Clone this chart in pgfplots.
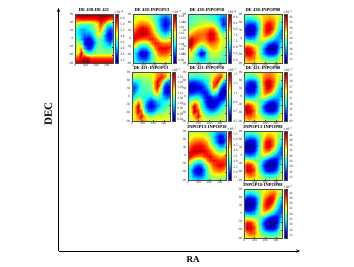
\documentclass[border=0pt]{standalone}
\usepackage{fontspec}
\setmainfont{Liberation Serif}
\usepackage{pgfplots}
\pgfplotsset{compat=1.18}
\usetikzlibrary{arrows.meta}
\def\tinyf{\fontsize{3.4}{3.8}\selectfont}
\definecolor{fr}{gray}{0.3}
\newcommand\panel[9]{%
\begin{axis}[at={(#1pt,{(266-#2-49)*1pt})},anchor=south west,scale only axis,width=38pt,height=49pt,
 xmin=0,xmax=360,ymin=-90,ymax=90,axis on top,clip=false,colormap/jet,
 xtick={0,100,200,300},ytick={-90,-60,-30,0,30,60,90},
 tick style={line width=0.25pt,color=fr},major tick length=1pt,axis line style={line width=0.6pt,color=fr},
 tick label style={font=\tinyf,color=black!85},
 /pgf/number format/assume math mode=true,
 xticklabel style={yshift=1.8pt},yticklabel style={xshift=1.8pt},
 point meta min=#3,point meta max=#4,
 colorbar,colorbar style={width=3.3pt,height=49pt,at={(parent axis.north east)},anchor=north west,xshift=-6.5pt,
  ytick={#5},yticklabels={#6},major tick length=0pt,axis line style={line width=0.25pt,color=fr},
  yticklabel style={font=\tinyf,xshift=-1.6pt,color=black!85}},
 title style={font=\bfseries\fontsize{4.6}{5}\selectfont,yshift=-7.5pt},title={#7}]
\addplot[surf,shader=interp,mesh/cols=13,point meta=\thisrowno{0}] table[row sep=\\,header=false,
 x expr={30*mod(\coordindex,13)},y expr={90-18*floor(\coordindex/13)},y index=0]{#9};
\node[font=\fontsize{3.6}{4}\selectfont,anchor=south west,inner sep=0pt] at (rel axis cs:1.04,1.005) {×10\raisebox{1pt}{\fontsize{2.8}{2.8}\selectfont −#8}};
\end{axis}}
\begin{document}
\begin{tikzpicture}[x=1pt,y=1pt]
\useasboundingbox (0,0) rectangle (354pt,266pt);
\begin{axis}[at={(58.5pt,15pt)},anchor=south west,scale only axis,width=241.5pt,height=243pt,
 axis lines=left,xmin=0,xmax=1,ymin=0,ymax=1,xtick=\empty,ytick=\empty,
 axis line style={line width=0.9pt,-{Stealth[length=4pt,width=3.4pt]}},
 xlabel={\bfseries RA},ylabel={\bfseries DEC},
 x label style={font=\fontsize{9}{10}\selectfont,at={(axis description cs:0.557,0)},anchor=north,yshift=-2.5pt},
 y label style={font=\fontsize{11}{12}\selectfont,at={(axis description cs:0,0.564)},anchor=south,rotate=0,yshift=3pt}]
\addplot[draw=none] coordinates {(0,0)(1,1)};
\end{axis}
% row 1
\panel{75}{14}{30}{63}{32,36,40,44,48,52,56,60}{3.2,3.6,4.0,4.4,4.8,5.2,5.6,6.0}{DE 430-DE 421}{8}{%
63\\63\\63\\63\\63\\62\\62\\62\\63\\63\\63\\62\\62\\%
56\\57\\58\\58\\58\\58\\58\\59\\60\\60\\58\\56\\56\\%
49\\47\\45\\45\\45\\46\\48\\51\\57\\54\\44\\43\\45\\%
46\\42\\40\\40\\42\\44\\46\\50\\54\\48\\38\\36\\40\\%
44\\42\\40\\38\\38\\40\\44\\50\\50\\44\\35\\33\\38\\%
46\\44\\40\\35\\33\\35\\40\\46\\46\\42\\36\\34\\40\\%
48\\50\\46\\35\\32\\33\\38\\44\\46\\44\\40\\38\\44\\%
46\\50\\54\\40\\34\\36\\42\\46\\46\\46\\44\\44\\46\\%
47\\51\\60\\51\\44\\44\\46\\47\\47\\47\\47\\47\\47\\%
57\\57\\59\\62\\60\\57\\57\\57\\57\\57\\57\\57\\57\\%
61\\61\\61\\63\\63\\61\\61\\61\\61\\61\\61\\61\\61\\}
\panel{133}{14}{94}{130}{96,100,104,108,112,116,120,124,128}{0.96,1.00,1.04,1.08,1.12,1.16,1.20,1.24,1.28}{DE 430-INPOP13}{7}{%
113\\114\\115\\115\\114\\113\\112\\110\\108\\106\\105\\106\\109\\%
114\\116\\117\\117\\116\\115\\113\\110\\106\\102\\99\\101\\106\\%
117\\119\\121\\122\\121\\119\\116\\112\\107\\102\\97\\99\\105\\%
120\\123\\126\\127\\126\\123\\119\\114\\109\\104\\100\\102\\108\\%
124\\126\\128\\128\\127\\125\\122\\118\\113\\109\\106\\108\\113\\%
126\\125\\123\\122\\122\\124\\125\\123\\119\\115\\113\\115\\118\\%
122\\118\\114\\112\\113\\117\\122\\125\\124\\122\\121\\121\\122\\%
116\\111\\106\\103\\104\\109\\115\\121\\125\\126\\126\\125\\122\\%
111\\105\\99\\96\\97\\103\\110\\116\\121\\123\\123\\122\\118\\%
110\\106\\102\\100\\100\\104\\110\\114\\117\\118\\118\\117\\114\\%
110\\109\\108\\107\\107\\108\\110\\112\\114\\115\\115\\114\\112\\}
\panel{188}{14}{58}{90}{60,64,68,72,76,80,84,88}{6.0,6.4,6.8,7.2,7.6,8.0,8.4,8.8}{DE 430-INPOP10}{8}{%
72\\72\\73\\73\\73\\72\\72\\71\\70\\69\\68\\68\\69\\%
72\\72\\73\\74\\74\\74\\74\\73\\72\\70\\66\\63\\66\\%
73\\73\\74\\75\\76\\77\\77\\77\\76\\73\\68\\62\\64\\%
74\\76\\78\\80\\80\\81\\82\\84\\83\\78\\72\\68\\69\\%
78\\81\\82\\83\\83\\83\\85\\88\\87\\82\\76\\74\\75\\%
84\\87\\85\\83\\82\\82\\84\\87\\86\\83\\79\\76\\76\\%
87\\88\\84\\80\\78\\79\\81\\83\\83\\81\\78\\76\\75\\%
85\\84\\79\\72\\68\\71\\76\\79\\80\\79\\77\\75\\73\\%
80\\78\\74\\66\\60\\63\\71\\75\\77\\76\\75\\73\\72\\%
76\\75\\73\\70\\67\\68\\72\\74\\75\\74\\74\\72\\72\\%
73\\73\\72\\72\\71\\71\\72\\72\\72\\72\\72\\71\\71\\}
\panel{244}{14}{10}{38}{12,15,18,21,24,27,30,33,36}{12,15,18,21,24,27,30,33,36}{DE 430-INPOP08}{7}{%
24\\24\\25\\26\\27\\28\\29\\29\\29\\28\\27\\26\\25\\%
22\\20\\20\\21\\23\\26\\29\\30\\31\\30\\28\\25\\23\\%
18\\15\\14\\15\\19\\24\\30\\34\\35\\32\\28\\23\\20\\%
15\\12\\11\\12\\17\\24\\31\\35\\36\\32\\26\\21\\18\\%
16\\13\\12\\14\\19\\25\\30\\33\\32\\27\\22\\18\\17\\%
21\\19\\18\\19\\23\\26\\27\\26\\23\\20\\18\\18\\20\\%
27\\27\\26\\24\\24\\24\\22\\19\\16\\14\\15\\18\\23\\%
33\\35\\34\\30\\27\\23\\18\\14\\11\\10\\12\\18\\26\\%
33\\36\\36\\32\\27\\23\\18\\15\\13\\13\\15\\21\\28\\%
30\\31\\32\\31\\28\\26\\24\\22\\21\\21\\22\\25\\28\\%
27\\28\\28\\28\\28\\27\\27\\26\\26\\26\\26\\26\\27\\}
% row 2
\panel{132}{72}{82}{138}{84,90,96,102,108,114,120,126,132}{0.84,0.90,0.96,1.02,1.08,1.14,1.20,1.26,1.32}{DE 421-INPOP13}{7}{%
116\\116\\116\\116\\117\\117\\118\\119\\122\\124\\122\\118\\116\\%
112\\112\\112\\112\\112\\113\\114\\118\\125\\130\\126\\116\\112\\%
100\\100\\104\\108\\110\\110\\112\\122\\132\\122\\104\\94\\96\\%
92\\94\\100\\106\\108\\108\\110\\122\\132\\112\\92\\88\\88\\%
94\\98\\104\\106\\106\\106\\108\\116\\122\\106\\90\\88\\90\\%
100\\106\\110\\106\\104\\102\\100\\106\\110\\104\\98\\94\\98\\%
108\\114\\122\\112\\102\\94\\90\\94\\100\\102\\104\\104\\108\\%
110\\122\\134\\116\\98\\90\\88\\90\\96\\102\\106\\108\\110\\%
112\\122\\134\\126\\104\\96\\94\\98\\104\\108\\110\\112\\112\\%
114\\118\\124\\132\\120\\112\\110\\112\\114\\114\\114\\114\\114\\%
118\\118\\120\\122\\122\\120\\118\\118\\118\\118\\118\\118\\118\\}
\panel{188}{72}{50}{155}{50,70,90,110,130,150}{0.5,0.7,0.9,1.1,1.3,1.5}{DE 421-INPOP10}{7}{%
105\\105\\105\\105\\106\\107\\108\\110\\114\\118\\122\\118\\110\\%
96\\92\\90\\92\\94\\96\\100\\106\\118\\132\\140\\118\\100\\%
72\\66\\66\\70\\76\\84\\92\\108\\132\\142\\112\\84\\76\\%
60\\56\\56\\58\\62\\70\\82\\100\\134\\120\\80\\62\\62\\%
66\\64\\66\\70\\66\\62\\68\\84\\106\\90\\62\\56\\60\\%
84\\88\\92\\92\\84\\68\\60\\62\\70\\68\\58\\60\\70\\%
96\\108\\118\\108\\94\\76\\60\\54\\56\\62\\68\\76\\88\\%
102\\124\\146\\120\\98\\84\\68\\58\\58\\68\\82\\94\\100\\%
104\\120\\148\\136\\106\\94\\86\\78\\78\\88\\98\\102\\104\\%
106\\112\\124\\144\\124\\108\\104\\102\\102\\106\\108\\108\\108\\%
112\\112\\114\\118\\120\\116\\112\\110\\110\\110\\110\\110\\110\\}
\panel{244}{72}{9}{35}{9,12,15,18,21,24,27,30,33}{09,12,15,18,21,24,27,30,33}{DE 421-INPOP08}{7}{%
23\\23\\23\\24\\25\\26\\27\\28\\28\\27\\26\\25\\24\\%
21\\20\\19\\20\\22\\25\\28\\29\\30\\28\\26\\24\\22\\%
17\\14\\12\\13\\17\\23\\29\\33\\33\\30\\26\\22\\19\\%
15\\12\\10\\11\\16\\22\\28\\32\\33\\29\\24\\19\\17\\%
15\\13\\12\\13\\17\\22\\27\\30\\29\\25\\20\\17\\16\\%
19\\18\\17\\18\\21\\23\\24\\23\\21\\18\\17\\17\\19\\%
25\\25\\24\\23\\22\\21\\19\\16\\14\\13\\14\\17\\22\\%
30\\33\\31\\27\\24\\20\\15\\11\\10\\10\\12\\17\\24\\%
31\\34\\33\\29\\24\\20\\16\\13\\12\\12\\14\\19\\26\\%
28\\29\\30\\28\\26\\24\\22\\20\\19\\19\\20\\23\\26\\%
25\\26\\26\\26\\25\\25\\24\\24\\24\\24\\24\\25\\25\\}
% row 3
\panel{188}{131}{13}{58}{15,20,25,30,35,40,45,50,55}{1.5,2.0,2.5,3.0,3.5,4.0,4.5,5.0,5.5}{INPOP13-INPOP10}{7}{%
37\\38\\38\\38\\37\\36\\35\\33\\30\\27\\26\\27\\30\\%
38\\40\\42\\42\\42\\41\\39\\35\\29\\22\\18\\20\\27\\%
42\\45\\47\\48\\48\\46\\43\\37\\30\\22\\16\\18\\26\\%
46\\50\\52\\53\\53\\51\\47\\42\\36\\30\\25\\26\\33\\%
50\\53\\55\\55\\54\\53\\52\\48\\43\\38\\35\\37\\41\\%
53\\52\\49\\47\\47\\50\\52\\53\\49\\46\\43\\45\\48\\%
47\\42\\37\\34\\36\\41\\47\\51\\52\\51\\50\\50\\49\\%
40\\33\\26\\22\\23\\31\\38\\44\\49\\52\\53\\52\\48\\%
36\\27\\19\\15\\17\\25\\33\\40\\45\\47\\48\\46\\42\\%
34\\29\\23\\21\\21\\26\\33\\37\\39\\40\\40\\39\\37\\%
33\\32\\31\\30\\30\\31\\33\\34\\35\\36\\36\\35\\34\\}
\panel{244}{131}{10}{47}{12,16,20,24,28,32,36,40,44}{12,16,20,24,28,32,36,40,44}{INPOP13-INPOP08}{7}{%
28\\28\\28\\29\\30\\31\\32\\33\\33\\32\\31\\30\\29\\%
24\\22\\21\\22\\25\\29\\33\\36\\37\\35\\32\\29\\26\\%
18\\14\\12\\14\\20\\28\\36\\42\\43\\38\\32\\27\\22\\%
14\\11\\10\\12\\19\\28\\37\\43\\44\\38\\30\\24\\18\\%
15\\13\\12\\15\\22\\29\\35\\38\\37\\31\\25\\20\\17\\%
23\\21\\20\\22\\26\\29\\30\\28\\25\\21\\19\\19\\22\\%
32\\33\\31\\29\\28\\26\\22\\18\\14\\13\\14\\19\\26\\%
38\\43\\42\\36\\30\\24\\17\\12\\11\\11\\14\\21\\30\\%
38\\44\\45\\40\\32\\26\\20\\15\\13\\14\\17\\24\\33\\%
34\\37\\39\\37\\33\\30\\27\\25\\24\\24\\26\\29\\32\\%
31\\32\\33\\33\\32\\31\\31\\30\\30\\30\\30\\30\\31\\}
% row 4
\panel{244}{189}{10}{47}{12,16,20,24,28,32,36,40,44}{12,16,20,24,28,32,36,40,44}{INPOP10-INPOP08}{7}{%
29\\29\\29\\30\\30\\31\\32\\33\\34\\35\\34\\31\\29\\%
24\\22\\21\\23\\26\\30\\34\\36\\38\\40\\36\\30\\26\\%
17\\13\\12\\14\\20\\28\\36\\41\\44\\42\\33\\26\\21\\%
13\\11\\10\\13\\20\\29\\38\\43\\44\\37\\28\\22\\17\\%
15\\13\\13\\16\\23\\30\\37\\40\\37\\30\\24\\19\\17\\%
24\\22\\21\\22\\26\\30\\31\\29\\25\\21\\18\\18\\22\\%
33\\33\\31\\30\\29\\26\\22\\18\\14\\12\\13\\18\\26\\%
38\\43\\42\\37\\31\\24\\17\\12\\11\\10\\13\\20\\30\\%
37\\45\\45\\40\\33\\26\\20\\15\\13\\13\\16\\24\\33\\%
33\\37\\40\\39\\34\\30\\27\\25\\24\\24\\25\\28\\31\\%
31\\32\\33\\34\\33\\31\\31\\30\\30\\30\\30\\30\\31\\}
\end{tikzpicture}
\end{document}
